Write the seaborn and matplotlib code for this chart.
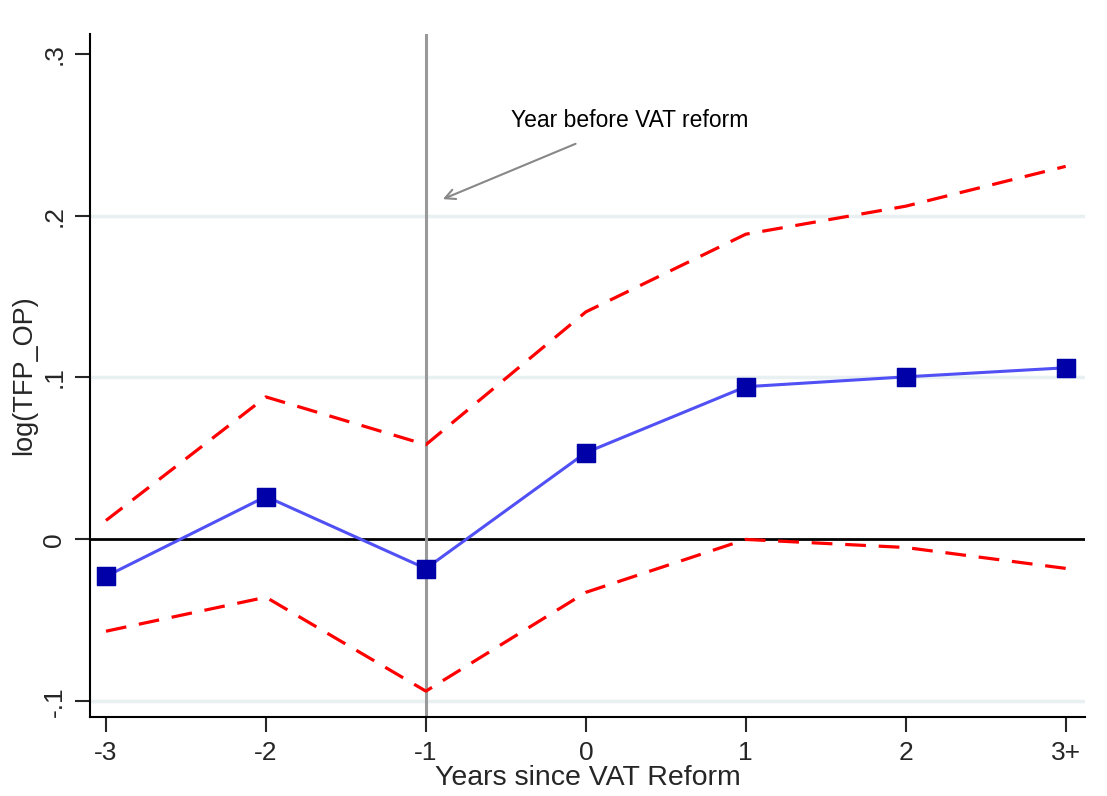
import pandas as pd
import matplotlib.pyplot as plt
import seaborn as sns

# event-study estimates
years = [-3, -2, -1, 0, 1, 2, 3]
year_labels = ["-3", "-2", "-1", "0", "1", "2", "3+"]
coef = [-0.0228, 0.0265, -0.018, 0.0536, 0.0943, 0.1004, 0.106]
ci_upper = [0.0117, 0.088, 0.0585, 0.1405, 0.1885, 0.2058, 0.2304]
ci_lower = [-0.0567, -0.0357, -0.0937, -0.0327, 0.0, -0.005, -0.0179]

y_ticks = [-0.1, 0, 0.1, 0.2, 0.3]
y_tick_labels = ["-.1", "0", ".1", ".2", ".3"]

df = pd.DataFrame({"year": years, "coef": coef, "upper": ci_upper, "lower": ci_lower})

sns.set_style("white")
plt.rcParams['font.family'] = ['Liberation Sans', 'DejaVu Sans']

fig = plt.figure(figsize=(11.07, 7.96), dpi=100)
ax = fig.add_axes([0.0813, 0.0992, 0.8987, 0.8578])

# light grid lines
for yv in [-0.1, 0.1, 0.2]:
    ax.axhline(yv, color="#e9f0f1", lw=2.5, zorder=0)
ax.axhline(0, color="black", lw=2, zorder=1)
ax.axvline(-1, color="#999999", lw=2.2, zorder=1)

sns.lineplot(data=df, x="year", y="upper", ax=ax, color="#ff0000", lw=2.3,
             dashes=False, zorder=2)
sns.lineplot(data=df, x="year", y="lower", ax=ax, color="#ff0000", lw=2.3,
             dashes=False, zorder=2)
for ln in ax.lines[-2:]:
    ln.set_dashes([6.5, 4])

sns.lineplot(data=df, x="year", y="coef", ax=ax, color="#5050f5", lw=2.2, zorder=3)
sns.scatterplot(data=df, x="year", y="coef", ax=ax, marker="s", s=170,
                color="#0000a8", edgecolor="#0000a8", zorder=4)

ax.annotate("", xy=(-0.91, 0.2095), xytext=(-0.048, 0.245),
            arrowprops=dict(arrowstyle="->", color="#888888", lw=1.5,
                            mutation_scale=18))
ax.text(0.277, 0.259, "Year before VAT reform", ha="center", va="center",
        fontsize=16.5, color="black")

ax.set_xlim(-3.1, 3.12)
ax.set_ylim(-0.1097, 0.312)
ax.set_xticks(years)
ax.set_xticklabels(year_labels, fontsize=19)
ax.set_yticks(y_ticks)
ax.set_yticklabels(y_tick_labels, fontsize=19, rotation=90, va="center")
ax.tick_params(axis="both", direction="out", length=11, width=1.5,
               left=True, bottom=True, pad=6)

for s in ["top", "right"]:
    ax.spines[s].set_visible(False)
for s in ["left", "bottom"]:
    ax.spines[s].set_color("black")
    ax.spines[s].set_linewidth(1.5)

ax.set_xlabel("Years since VAT Reform", fontsize=20.5, labelpad=0)
ax.set_ylabel("log(TFP_OP)", fontsize=19.5, labelpad=4)

plt.savefig("out.png", dpi=100)
